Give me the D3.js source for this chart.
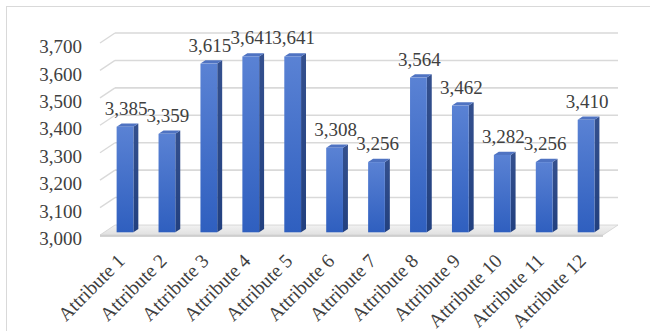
<!DOCTYPE html>
<html>
<head>
<meta charset="utf-8">
<script src="https://cdn.jsdelivr.net/npm/d3@7"></script>
<style>
  body { margin: 0; background: #fff; }
  svg text { font-family: "Liberation Serif", "Times New Roman", serif; fill: #404040; }
</style>
</head>
<body>
<svg id="chart" width="650" height="331"></svg>
<script>
// chart data
var categories = ["Attribute 1", "Attribute 2", "Attribute 3", "Attribute 4", "Attribute 5", "Attribute 6",
    "Attribute 7", "Attribute 8", "Attribute 9", "Attribute 10", "Attribute 11", "Attribute 12"];
var values = [3385, 3359, 3615, 3641, 3641, 3308, 3256, 3564, 3462, 3282, 3256, 3410];
var yTicks = [3000, 3100, 3200, 3300, 3400, 3500, 3600, 3700];

var svg = d3.select("#chart");
var fmt = d3.format(",");

// outer border of the chart area
svg.append("rect")
    .attr("x", 6.5).attr("y", 6.5)
    .attr("width", 660).attr("height", 340)
    .attr("fill", "none")
    .attr("stroke", "#d9d9d9");

// back wall scales
var y = d3.scaleLinear().domain([3000, 3700]).range([225, 33]);
var x = d3.scaleBand().domain(categories).range([115, 618]);

// 3d depth offset (back -> front)
var depthX = -15, depthY = 10;
function shift(t) { return [depthX * t, depthY * t]; }

// gradients for the bars
var defs = svg.append("defs");
var gFront = defs.append("linearGradient").attr("id", "front").attr("x1", 0).attr("y1", 0).attr("x2", 0).attr("y2", 1);
gFront.append("stop").attr("offset", "0%").attr("stop-color", "#5a82d4");
gFront.append("stop").attr("offset", "100%").attr("stop-color", "#2f5fbf");
var gSide = defs.append("linearGradient").attr("id", "side").attr("x1", 0).attr("y1", 0).attr("x2", 0).attr("y2", 1);
gSide.append("stop").attr("offset", "0%").attr("stop-color", "#34508e");
gSide.append("stop").attr("offset", "100%").attr("stop-color", "#22407f");
var gFloor = defs.append("linearGradient").attr("id", "floor").attr("x1", 0).attr("y1", 0).attr("x2", 0).attr("y2", 1);
gFloor.append("stop").attr("offset", "0%").attr("stop-color", "#f2f2f2");
gFloor.append("stop").attr("offset", "100%").attr("stop-color", "#e0e0e0");

// gridlines on back wall + side wall
var x0 = x.range()[0], x1 = x.range()[1];
yTicks.slice(1).forEach(function(t) {
    var yy = y(t);
    svg.append("line")
        .attr("x1", x0).attr("x2", x1).attr("y1", yy).attr("y2", yy)
        .attr("stroke", "#d9d9d9").attr("stroke-width", 1.6);
    svg.append("line")
        .attr("x1", x0 + depthX).attr("y1", yy + depthY).attr("x2", x0).attr("y2", yy)
        .attr("stroke", "#d9d9d9").attr("stroke-width", 1.4);
});

// floor
var yb = y(3000);
svg.append("path")
    .attr("d", "M" + x0 + "," + yb + "L" + x1 + "," + yb + "L" + (x1 + depthX) + "," + (yb + depthY) +
        "L" + (x0 + depthX) + "," + (yb + depthY) + "Z")
    .attr("fill", "url(#floor)")
    .attr("stroke", "#d0d0d0").attr("stroke-width", 0.8);
svg.append("line")
    .attr("x1", x0 + depthX).attr("x2", x1 + depthX)
    .attr("y1", yb + depthY + 1).attr("y2", yb + depthY + 1)
    .attr("stroke", "#c4c4c4").attr("stroke-width", 1.5);

// y tick labels
svg.append("g").selectAll("text")
    .data(yTicks)
    .enter()
    .append("text")
    .attr("x", 82)
    .attr("y", function(d) { return y(d) + 13.5; })
    .attr("dy", "0.35em")
    .attr("text-anchor", "end")
    .style("font-size", "19px")
    .text(function(d) { return fmt(d); });

// bars (front plane at 0.73 depth, back plane at 0.4 depth)
var fShift = shift(0.73), bShift = shift(0.4);
var barW = x.bandwidth() * 0.4;

var bars = svg.append("g").selectAll("g")
    .data(values)
    .enter()
    .append("g");

function bx(i) { return x(categories[i]) + (x.bandwidth() - barW) / 2 + fShift[0]; }

bars.each(function(d, i) {
    var g = d3.select(this);
    var left = bx(i), right = left + barW;
    var top = y(d) + fShift[1], bottom = yb + fShift[1];
    var ddx = bShift[0] - fShift[0], ddy = bShift[1] - fShift[1];
    // side face
    g.append("path")
        .attr("d", "M" + right + "," + top + "L" + (right + ddx) + "," + (top + ddy) +
            "L" + (right + ddx) + "," + (bottom + ddy) + "L" + right + "," + bottom + "Z")
        .attr("fill", "url(#side)");
    // top face
    g.append("path")
        .attr("d", "M" + left + "," + top + "L" + right + "," + top + "L" + (right + ddx) + "," + (top + ddy) +
            "L" + (left + ddx) + "," + (top + ddy) + "Z")
        .attr("fill", "#4f73c2");
    // front face
    g.append("rect")
        .attr("x", left).attr("y", top)
        .attr("width", barW).attr("height", bottom - top)
        .attr("fill", "url(#front)");
});

// data labels
svg.append("g").selectAll("text")
    .data(values)
    .enter()
    .append("text")
    .attr("x", function(d, i) { return bx(i) + barW / 2 + 1; })
    .attr("y", function(d) { return y(d) + fShift[1] - 12; })
    .attr("text-anchor", "middle")
    .style("font-size", "19px")
    .text(function(d) { return fmt(d); });

// category labels rotated
svg.append("g").selectAll("text")
    .data(categories)
    .enter()
    .append("text")
    .attr("transform", function(d, i) {
        var cx = bx(i) + barW / 2 + 1;
        return "translate(" + cx + "," + 262 + ") rotate(-45)";
    })
    .attr("text-anchor", "end")
    .style("font-size", "19.5px")
    .text(function(d) { return d; });
</script>
</body>
</html>
